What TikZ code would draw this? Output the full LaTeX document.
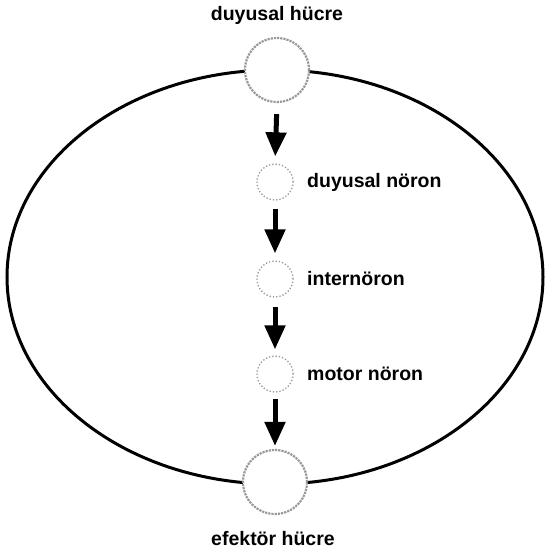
\documentclass[tikz,border=0pt]{standalone}
\usepackage{fontspec}
\setmainfont{Liberation Sans}
\usetikzlibrary{arrows.meta}
\begin{document}
\begin{tikzpicture}[x=1pt,y=-1pt,
  lbl/.style={font=\fontsize{19.5}{21}\selectfont\bfseries, inner sep=0pt},
  bigcell/.style={circle, minimum size=64pt, inner sep=0pt, fill=white, draw=gray!80, line width=2.2pt, densely dotted},
  smallcell/.style={circle, minimum size=36pt, inner sep=0pt, fill=white, draw=gray!80, line width=1.3pt, dotted},
  flow/.style={line width=5pt, -{Triangle[width=20pt,length=24pt]}}]
\useasboundingbox (0,0) rectangle (551,552);
\draw[line width=3pt] (275,277) ellipse [x radius=268, y radius=207];
\node[bigcell] (c1) at (277,70) {};
\node[smallcell] (c2) at (275,182) {};
\node[smallcell] (c3) at (275,279) {};
\node[smallcell] (c4) at (275,374) {};
\node[bigcell] (c5) at (275,482) {};
\node[lbl, anchor=base] (t1) at (277,20) {duyusal hücre};
\node[lbl, anchor=base] (t5) at (273,545) {efektör hücre};
\node[lbl, anchor=west] (t2) at (307,182) {duyusal nöron};
\node[lbl, anchor=west] (t3) at (307,279) {internöron};
\node[lbl, anchor=west] (t4) at (307,374) {motor nöron};
\draw[flow, shorten <=11pt, shorten >=7pt] (c1.south) -- (c2.north);
\draw[flow, shorten <=8pt, shorten >=7pt] (c2.south) -- (c3.north);
\draw[flow, shorten <=9pt, shorten >=6pt] (c3.south) -- (c4.north);
\draw[flow, shorten <=6pt, shorten >=3pt] (c4.south) -- (c5.north);
\end{tikzpicture}
\end{document}
